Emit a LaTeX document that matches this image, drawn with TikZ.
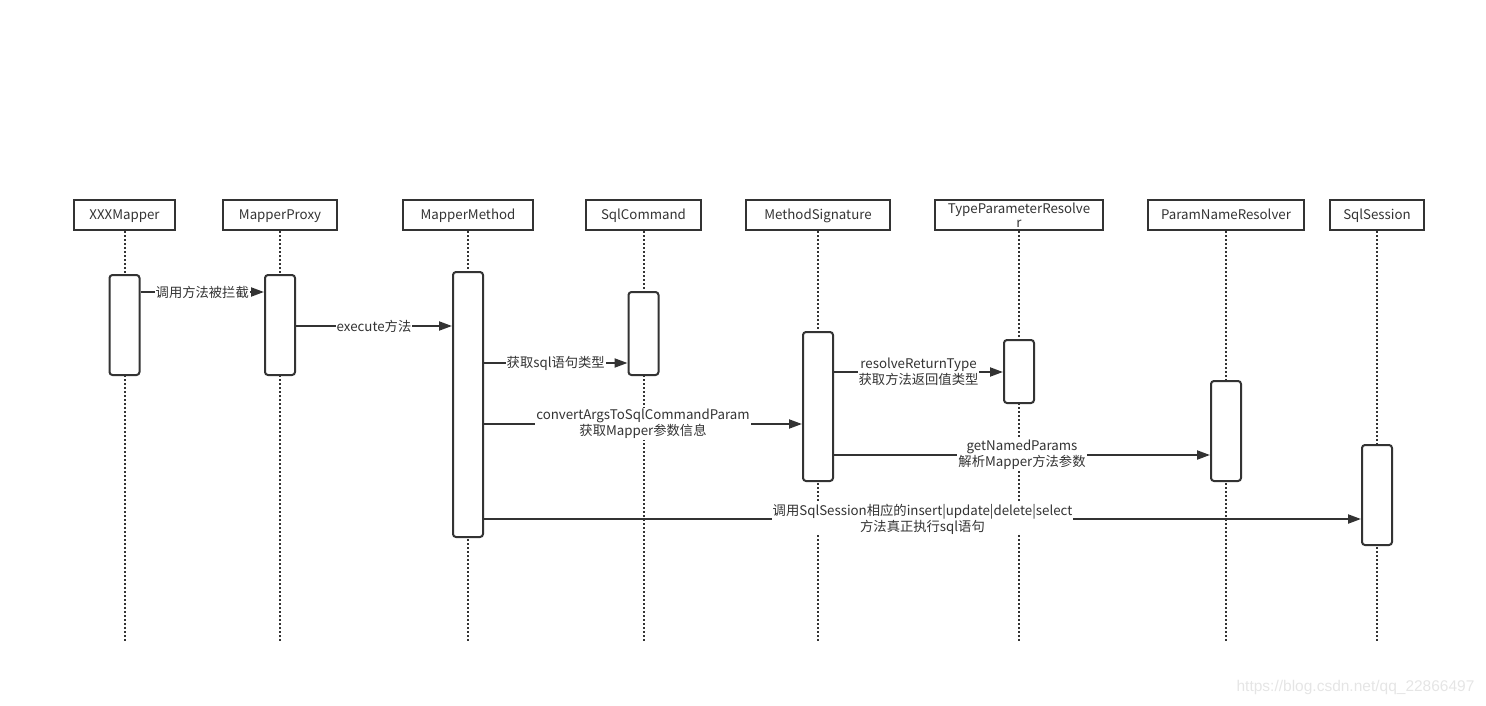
\documentclass[tikz,border=0pt]{standalone}
\usepackage{fontspec}
\setmainfont{Noto Sans CJK SC}
\newfontfamily\markfont{Liberation Sans}
\usepackage{tikz}
\usetikzlibrary{arrows.meta, positioning}
\definecolor{linecolor}{HTML}{333333}

\begin{document}
\begin{tikzpicture}
  [
    x=1pt, y=-1pt,
    every node/.style={font=\fontsize{13.3}{15}\selectfont, text=linecolor},
    head/.style={draw=linecolor, line width=2pt, minimum height=30pt, inner ysep=0pt, align=center, text height=11pt, text depth=2pt},
    act/.style={draw=linecolor, fill=white, line width=2pt, rounded corners=3pt, minimum width=30pt},
    life/.style={draw=linecolor, line width=2pt, dash pattern=on 2pt off 2pt},
    msg/.style={draw=linecolor, line width=2pt, -{Triangle[length=13pt,width=9pt]}},
    lbl/.style={fill=white, inner sep=1pt, align=center, font=\fontsize{13.3}{16}\selectfont}
  ]
  \useasboundingbox (0,0) rectangle (1486,705);

  % participants
  \node[head, minimum width=101pt] (h1) at (124.5,215) {XXXMapper};
  \node[head, minimum width=114pt] (h2) at (280,215) {MapperProxy};
  \node[head, minimum width=130pt] (h3) at (468,215) {MapperMethod};
  \node[head, minimum width=115pt] (h4) at (643.5,215) {SqlCommand};
  \node[head, minimum width=144pt] (h5) at (818,215) {MethodSignature};
  \node[head, minimum width=168pt, text height=, text depth=, font=\fontsize{13.3}{14.5}\selectfont] (h6) at (1019,215) {TypeParameterResolve\\r};
  \node[head, minimum width=156pt] (h7) at (1226,215) {ParamNameResolver};
  \node[head, minimum width=94pt] (h8) at (1377,215) {SqlSession};

  \foreach \n in {h1,h2,h3,h4,h5,h6,h7,h8}
    \draw[life] (\n.south) -- (\n.south |- 0,641);

  % activations
  \node[act, minimum height=100pt] (a1) at (h1 |- 0,325) {};
  \node[act, minimum height=100pt] (a2) at (h2 |- 0,325) {};
  \node[act, minimum height=265pt] (a3) at (h3 |- 0,404.5) {};
  \node[act, minimum height=83pt] (a4) at (h4 |- 0,333.5) {};
  \node[act, minimum height=149pt] (a5) at (h5 |- 0,406.5) {};
  \node[act, minimum height=63pt] (a6) at (h6 |- 0,371.5) {};
  \node[act, minimum height=100pt] (a7) at (h7 |- 0,431) {};
  \node[act, minimum height=100pt] (a8) at (h8 |- 0,495) {};

  % messages
  \draw[msg] (a1.east |- 0,292) -- node[lbl] {调用方法被拦截} (a2.west |- 0,292);
  \draw[msg] (a2.east |- 0,326) -- node[lbl] {execute方法} (a3.west |- 0,326);
  \draw[msg] (a3.east |- 0,363) -- node[lbl] {获取sql语句类型} (a4.west |- 0,363);
  \draw[msg] (a5.east |- 0,372) -- node[lbl] {resolveReturnType\\获取方法返回值类型} (a6.west |- 0,372);
  \draw[msg] (a3.east |- 0,424) -- node[lbl] {convertArgsToSqlCommandParam\\获取Mapper参数信息} (a5.west |- 0,424);
  \draw[msg] (a5.east |- 0,455) -- node[lbl] {getNamedParams\\解析Mapper方法参数} (a7.west |- 0,455);
  \draw[msg] (a3.east |- 0,519) -- node[lbl] {调用SqlSession相应的insert|update|delete|select\\方法真正执行sql语句} (a8.west |- 0,519);

  \node[anchor=east, text=black!10, font=\markfont\fontsize{15.5}{17}\selectfont] (mark) at (1478,687) {https://blog.csdn.net/qq\_22866497};
\end{tikzpicture}
\end{document}
